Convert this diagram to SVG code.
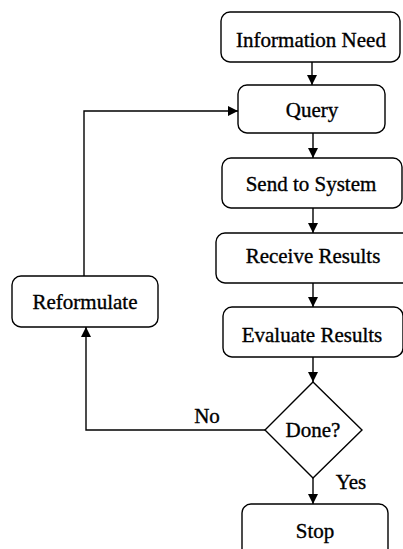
<svg xmlns="http://www.w3.org/2000/svg" width="403" height="549" viewBox="0 0 403 549">
  <style>
    .box { fill: #ffffff; stroke: #000000; stroke-width: 1.4; }
    .lbl { font-family: "Liberation Serif", "Times New Roman", "DejaVu Serif", serif; font-size: 21px; fill: #000000; stroke: #000000; stroke-width: 0.35; text-anchor: middle; }
    .edge { fill: none; stroke: #000000; stroke-width: 1.4; }
  </style>
  <defs>
    <marker id="arrow" viewBox="0 0 10 10" refX="10" refY="5" markerWidth="10" markerHeight="10" markerUnits="userSpaceOnUse" orient="auto">
      <path d="M0,0 L10,5 L0,10 z" fill="#000000"/>
    </marker>
  </defs>
  <rect width="403" height="549" fill="#ffffff"/>

  <g id="connectors">
    <line class="edge" x1="312" y1="62" x2="312" y2="85" marker-end="url(#arrow)"/>
    <line class="edge" x1="313" y1="133" x2="313" y2="158" marker-end="url(#arrow)"/>
    <line class="edge" x1="313" y1="208" x2="313" y2="233" marker-end="url(#arrow)"/>
    <line class="edge" x1="313" y1="283" x2="313" y2="307" marker-end="url(#arrow)"/>
    <line class="edge" x1="313" y1="357" x2="313" y2="382" marker-end="url(#arrow)"/>
    <line class="edge" x1="313" y1="478" x2="313" y2="504" marker-end="url(#arrow)"/>
    <polyline class="edge" points="265,430 86,430 86,327" marker-end="url(#arrow)"/>
    <polyline class="edge" points="84,276 84,111 238,111" marker-end="url(#arrow)"/>
    <text class="lbl" x="207" y="423">No</text>
    <text class="lbl" x="351" y="489">Yes</text>
  </g>

  <g id="information-need">
    <rect class="box" x="221" y="12" width="179" height="50" rx="9"/>
    <text class="lbl" x="311" y="47">Information Need</text>
  </g>
  <g id="query">
    <rect class="box" x="238" y="85" width="147" height="48" rx="9"/>
    <text class="lbl" x="312" y="117">Query</text>
  </g>
  <g id="send-to-system">
    <rect class="box" x="222" y="158" width="180" height="50" rx="9"/>
    <text class="lbl" x="311" y="191">Send to System</text>
  </g>
  <g id="receive-results">
    <rect class="box" x="216" y="233" width="200" height="50" rx="9"/>
    <text class="lbl" x="313" y="263">Receive Results</text>
  </g>
  <g id="evaluate-results">
    <rect class="box" x="223" y="307" width="180" height="50" rx="9"/>
    <text class="lbl" x="312" y="342">Evaluate Results</text>
  </g>
  <g id="done">
    <polygon class="box" points="313,382 362,430 313,478 265,430"/>
    <text class="lbl" x="313" y="437">Done?</text>
  </g>
  <g id="stop">
    <rect class="box" x="242" y="504" width="146" height="60" rx="9"/>
    <text class="lbl" x="315" y="538">Stop</text>
  </g>
  <g id="reformulate">
    <rect class="box" x="12" y="276" width="146" height="51" rx="9"/>
    <text class="lbl" x="85" y="309">Reformulate</text>
  </g>
</svg>
